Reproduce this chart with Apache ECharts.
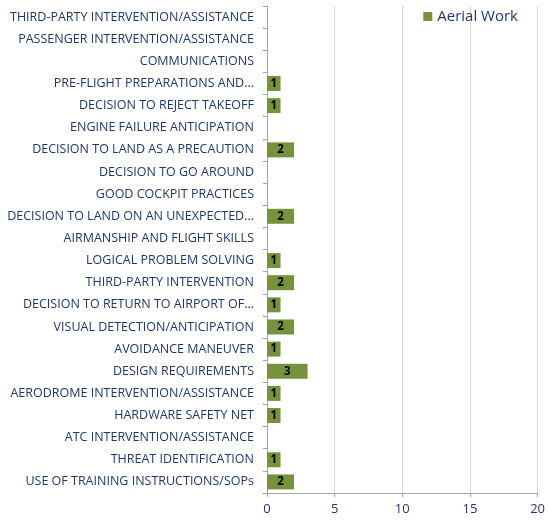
<!DOCTYPE html>
<html>
<head>
<meta charset="utf-8">
<script src="https://cdn.jsdelivr.net/npm/echarts@6/dist/echarts.min.js"></script>
<style>
  html, body { margin: 0; padding: 0; background: #fff; }
  #chart { width: 548px; height: 520px; }
</style>
</head>
<body>
<div id="chart"></div>
<script>
// Categories listed bottom-to-top (category axis starts at the bottom)
const categories = [
  'USE OF TRAINING INSTRUCTIONS/SOPs',
  'THREAT IDENTIFICATION',
  'ATC INTERVENTION/ASSISTANCE',
  'HARDWARE SAFETY NET',
  'AERODROME INTERVENTION/ASSISTANCE',
  'DESIGN REQUIREMENTS',
  'AVOIDANCE MANEUVER',
  'VISUAL DETECTION/ANTICIPATION',
  'DECISION TO RETURN TO AIRPORT OF...',
  'THIRD-PARTY INTERVENTION',
  'LOGICAL PROBLEM SOLVING',
  'AIRMANSHIP AND FLIGHT SKILLS',
  'DECISION TO LAND ON AN UNEXPECTED...',
  'GOOD COCKPIT PRACTICES',
  'DECISION TO GO AROUND',
  'DECISION TO LAND AS A PRECAUTION',
  'ENGINE FAILURE ANTICIPATION',
  'DECISION TO REJECT TAKEOFF',
  'PRE-FLIGHT PREPARATIONS AND...',
  'COMMUNICATIONS',
  'PASSENGER INTERVENTION/ASSISTANCE',
  'THIRD-PARTY INTERVENTION/ASSISTANCE'
];

const aerialWork = [2, 1, null, 1, 1, 3, 1, 2, 1, 2, 1, null, 2, null, null, 2, null, 1, 1, null, null, null];

const xTicks = { min: 0, max: 20, interval: 5 };

const textColor = '#1F3868';
const axisGrey = '#A6A6A6';
const barGreen = '#76923C';

const chart = echarts.init(document.getElementById('chart'), null, { renderer: 'canvas' });

chart.setOption({
  animation: false,
  textStyle: { fontFamily: 'Open Sans' },
  legend: {
    right: 25,
    top: 4,
    itemWidth: 9,
    itemHeight: 9,
    itemGap: 4,
    itemStyle: { borderWidth: 0 },
    textStyle: { color: textColor, fontSize: 15, fontFamily: 'Open Sans' },
    data: [{ name: 'Aerial Work', icon: 'rect' }]
  },
  grid: { left: 267, right: 8, top: 6, bottom: 27, containLabel: false },
  xAxis: {
    type: 'value',
    min: xTicks.min,
    max: xTicks.max,
    interval: xTicks.interval,
    axisLine: { show: true, lineStyle: { color: axisGrey } },
    axisTick: { show: true, length: 4, lineStyle: { color: axisGrey } },
    splitLine: { show: true, lineStyle: { color: '#D9D9D9' } },
    axisLabel: { color: textColor, fontSize: 13, margin: 10, fontFamily: 'Open Sans' }
  },
  yAxis: {
    type: 'category',
    data: categories,
    axisLine: { show: true, lineStyle: { color: axisGrey } },
    axisTick: { show: true, length: 4, lineStyle: { color: axisGrey } },
    axisLabel: {
      color: textColor,
      fontSize: 12.5,
      margin: 13,
      fontFamily: 'Open Sans',
      interval: 0
    }
  },
  series: [{
    name: 'Aerial Work',
    type: 'bar',
    data: aerialWork,
    barWidth: 15,
    itemStyle: { color: barGreen },
    label: {
      show: true,
      position: 'inside',
      color: '#000',
      fontWeight: 'bold',
      fontSize: 11.5,
      fontFamily: 'Open Sans'
    }
  }]
});
</script>
</body>
</html>
